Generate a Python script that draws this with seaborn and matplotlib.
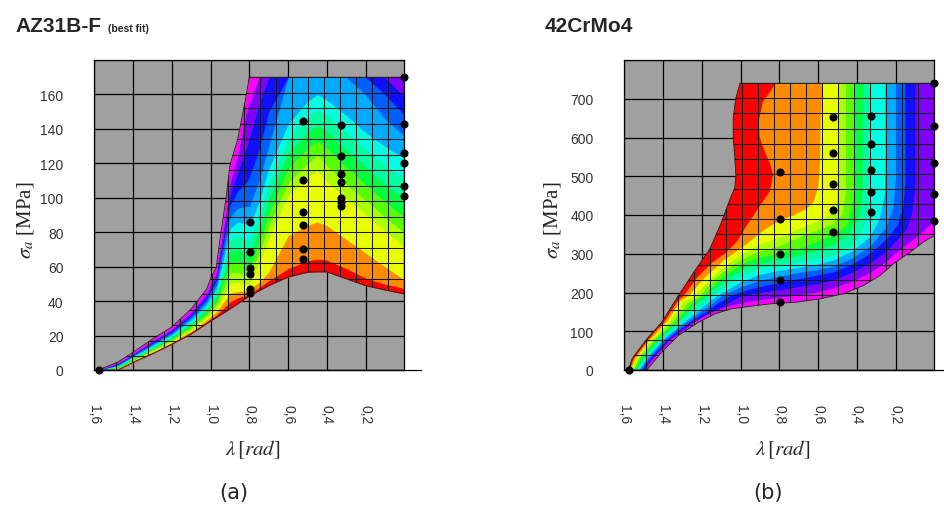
import numpy as np
import matplotlib
matplotlib.use("Agg")
import matplotlib.pyplot as plt
import seaborn as sns
import pandas as pd
from matplotlib.patches import Polygon

sns.set_style("white")
plt.rcParams['font.family'] = ['Liberation Sans', 'DejaVu Sans']
plt.rcParams['mathtext.fontset'] = 'stix'

# ---------------- colours (red -> magenta) ----------------
band_colors = ['#FF0000', '#FF8C00', '#E8FF00', '#AAFF00', '#55FF00', '#00FF40',
               '#00FFA0', '#00FFE0', '#00AAFF', '#0060FF', '#1010FF', '#8000FF', '#FF00FF']

# ---------------- ticks ----------------
x_ticks = [1.6, 1.4, 1.2, 1.0, 0.8, 0.6, 0.4, 0.2]
x_tick_labels = ['1,6', '1,4', '1,2', '1,0', '0,8', '0,6', '0,4', '0,2']
a_y_ticks = [0, 20, 40, 60, 80, 100, 120, 140, 160, 180]
a_y_labels = ['0', '20', '40', '60', '80', '100', '120', '140', '160', '']
b_y_ticks = [0, 100, 200, 300, 400, 500, 600, 700, 800]
b_y_labels = ['0', '100', '200', '300', '400', '500', '600', '700', '']

# ---------------- panel (a): AZ31B-F ----------------
a_lam = [1.58, 1.48, 1.40, 1.30, 1.20, 1.10, 1.02, 1.00, 0.97, 0.95, 0.92, 0.90,
         0.86, 0.82, 0.80, 0.75, 0.70, 0.60, 0.50, 0.45, 0.40, 0.30, 0.20, 0.10, 0.00]
a_lower = [0, 0, 4.5, 9.5, 15, 21, 27, 28.5, 30.5, 32, 34, 35.5,
           38.5, 41.5, 43, 46, 49, 54, 56.8, 57, 57, 53, 49, 46.5, 44.2]
a_upper = [0, 4.5, 10.3, 18, 25, 35.5, 47, 53, 60, 77, 100, 119,
           134, 157, 170, 170, 170, 170, 170, 170, 170, 170, 170, 170, 170]
# relative position of the 12 band borders across the narrow strip (first 12 columns)
a_strip_frac = [0.05, 0.11, 0.18, 0.25, 0.32, 0.40, 0.48, 0.56, 0.64, 0.72, 0.80, 0.88]
# band borders (sigma) in the main part, columns 0.86 ... 0.00
a_main_bounds = [
    [42, 43.5, 44.5, 48, 52, 59, 63.5, 64.5, 64, 59, 53.5, 50, 47.5],
    [45.5, 46, 47, 51, 57, 78, 84, 86, 84, 76, 68, 60, 52.5],
    [51, 50.5, 50.5, 63, 77, 102, 112, 116, 110, 100, 91, 81, 72],
    [57, 55.5, 55, 68, 84, 109, 120, 125, 119, 108, 99, 89, 80],
    [63, 61, 60, 74, 91, 117, 129, 133, 129, 118, 108, 98, 89],
    [70, 68, 67, 81, 99, 126, 138, 142, 139, 128, 118, 108, 100],
    [78, 76, 75, 89, 107, 134, 147, 151, 148, 138, 128, 119, 111],
    [86, 85, 84, 98, 117, 143, 156, 160, 157, 148, 138, 130, 123],
    [94, 95, 95, 110, 130, 172, 185, 188, 185, 175, 160, 146, 136],
    [104, 108, 112, 128, 150, 195, 205, 210, 205, 195, 177, 160, 148],
    [115, 128, 135, 155, 178, 220, 230, 235, 230, 218, 198, 178, 159],
    [125, 148, 155, 178, 200, 240, 250, 255, 250, 240, 222, 205, 190],
]
a_pt_lam = [1.575] + [0.796] * 6 + [0.521] * 6 + [0.327] * 7 + [0.0] * 6
a_pt_sig = [0, 85.7, 68.6, 59.4, 55.5, 47.3, 44.5,
            144.4, 110.1, 91.5, 84, 70.3, 64.5,
            142.5, 124.5, 114, 109, 100, 97.5, 95.2,
            170, 143, 126, 120, 107, 101]

# ---------------- panel (b): 42CrMo4 ----------------
b_domain_lam = [1.58, 1.484, 1.407, 1.321, 1.218, 1.132, 1.046, 0.925, 0.848, 0.71, 0.59,
                0.47, 0.366, 0.28, 0.211, 0.125, 0.057, 0.0, 0.0, 1.003, 1.025, 1.038,
                1.038, 1.03, 1.024, 1.03, 1.054, 1.10, 1.158, 1.235, 1.321, 1.407, 1.484, 1.559]
b_domain_sig = [0, 0, 46, 89, 123, 145, 158, 166, 170.7, 175, 183.6,
                196.5, 218, 244, 274, 304, 330, 347, 740, 740, 700, 650,
                600, 550, 500, 470, 442, 380, 313, 257, 192, 123, 80, 30]
b_strip_sig = [-20, 0, 30, 80, 125]
b_strip_left = [1.59, 1.58, 1.559, 1.484, 1.407]
b_strip_right = [1.49, 1.484, 1.435, 1.339, 1.21]
b_strip_frac = [0.08, 0.15, 0.23, 0.31, 0.38, 0.46, 0.54, 0.62, 0.69, 0.77, 0.85, 0.92]
b_bound_lam = [
    [1.32, 1.295, 1.22, 1.15, 1.08, 1.02, 0.97, 0.93, 0.89, 0.848, 0.831, 0.845, 0.875, 0.90, 0.905, 0.885, 0.85, 0.815, 0.80],
    [1.31, 1.27, 1.18, 1.08, 0.98, 0.88, 0.80, 0.72, 0.66, 0.62, 0.60, 0.59, 0.585, 0.575, 0.575],
    [1.29, 1.235, 1.14, 1.03, 0.92, 0.80, 0.70, 0.60, 0.53, 0.50, 0.495, 0.495],
    [1.27, 1.209, 1.12, 1.00, 0.90, 0.80, 0.70, 0.60, 0.52, 0.47, 0.455, 0.455],
    [1.25, 1.19, 1.10, 0.97, 0.85, 0.80, 0.70, 0.60, 0.52, 0.45, 0.42, 0.41, 0.41],
    [1.24, 1.175, 1.07, 0.95, 0.80, 0.70, 0.60, 0.52, 0.45, 0.39, 0.37, 0.365],
    [1.22, 1.15, 1.02, 0.90, 0.80, 0.70, 0.60, 0.52, 0.42, 0.36, 0.34, 0.335],
    [1.21, 1.16, 1.12, 1.00, 0.90, 0.80, 0.70, 0.60, 0.52, 0.42, 0.33, 0.28, 0.255, 0.25, 0.25],
    [1.20, 1.14, 1.097, 1.00, 0.90, 0.80, 0.70, 0.60, 0.52, 0.42, 0.33, 0.25, 0.21, 0.195, 0.195],
    [1.19, 1.12, 1.054, 0.95, 0.80, 0.70, 0.60, 0.52, 0.42, 0.33, 0.25, 0.19, 0.16, 0.15, 0.15],
    [1.17, 1.08, 0.994, 0.90, 0.80, 0.70, 0.60, 0.52, 0.42, 0.33, 0.25, 0.20, 0.14, 0.11, 0.095, 0.095],
    [1.15, 1.05, 0.95, 0.80, 0.70, 0.60, 0.52, 0.42, 0.33, 0.25, 0.20, 0.10, 0.0, -0.1, -0.1],
]
b_bound_sig = [
    [180, 190, 240, 275, 300, 330, 370, 400, 430, 460, 505, 530, 565, 600, 640, 690, 715, 740, 800],
    [178, 190, 240, 285, 320, 360, 385, 400, 415, 435, 470, 520, 650, 740, 800],
    [175, 190, 240, 285, 318, 340, 362, 382, 400, 430, 500, 800],
    [172, 190, 240, 282, 305, 318, 340, 360, 375, 400, 460, 800],
    [170, 190, 235, 278, 295, 300, 312, 330, 347, 372, 420, 480, 800],
    [165, 190, 235, 268, 285, 294, 308, 322, 345, 390, 450, 800],
    [160, 190, 235, 262, 270, 278, 287, 296, 322, 370, 440, 800],
    [155, 175, 190, 225, 245, 255, 263, 272, 282, 306, 343, 390, 450, 520, 800],
    [150, 172, 190, 212, 230, 240, 250, 258, 266, 288, 318, 365, 420, 500, 800],
    [145, 170, 190, 208, 225, 234, 244, 252, 272, 300, 335, 372, 420, 480, 800],
    [143, 165, 190, 198, 205, 213, 221, 230, 250, 274, 302, 328, 362, 410, 480, 800],
    [147, 165, 176, 186, 192, 200, 210, 228, 250, 276, 300, 338, 382, 395, 800],
]
b_pt_lam = [1.575] + [0.796] * 5 + [0.521] * 5 + [0.327] * 5 + [0.0] * 5
b_pt_sig = [0, 511, 390, 299, 231, 176, 653, 561, 481, 414, 356,
            656, 584, 516, 460, 409, 740, 629, 534, 453, 385]

GRAY = '#a0a0a0'


def style_axes(ax, ylim, yticks, ylabels):
    ax.set_facecolor(GRAY)
    ax.set_xlim(1.6, 0)
    ax.set_ylim(*ylim)
    ax.set_xticks(x_ticks)
    ax.set_xticklabels(x_tick_labels, rotation=-90, ha='center', va='top')
    ax.set_yticks(yticks)
    ax.set_yticklabels(ylabels)
    ax.grid(True, color='black', lw=0.9)
    ax.set_axisbelow(True)
    ax.tick_params(axis='y', length=12.2, width=0.9, color='black', direction='out',
                   labelsize=10, labelcolor='#333333', pad=10)
    ax.tick_params(axis='x', length=12.2, width=0.9, color='black', direction='out',
                   labelsize=10, labelcolor='#333333', pad=12)
    for s in ax.spines.values():
        s.set_color('black')
        s.set_linewidth(0.9)
    ax.axhline(0, xmin=0, xmax=1.055, color='black', lw=0.9, clip_on=False, zorder=2.5)
    ax.set_xlabel('')
    ax.set_ylabel('')


def fine_grid(ax, clip, lam_step, sig_top, sig_step):
    for i in range(0, 21):
        ln = ax.axvline(i * lam_step, color='#151515', lw=0.75, zorder=2)
        ln.set_clip_path(clip)
    s = sig_top
    while s >= 0:
        ln = ax.axhline(s, color='#151515', lw=0.75, zorder=2)
        ln.set_clip_path(clip)
        s -= sig_step


fig = plt.figure(figsize=(9.45, 5.06), dpi=100)
axA = fig.add_axes([94.3 / 945, 135 / 506, 310 / 945, 310 / 506])
axB = fig.add_axes([624.3 / 945, 135 / 506, 310 / 945, 310 / 506])

# ---------- panel (a) ----------
lam = np.array(a_lam)
lo = np.array(a_lower, float)
hi = np.array(a_upper, float)
ns = len(a_lam) - len(a_main_bounds[0])
edges = [lo]
for k in range(12):
    b = np.empty_like(lo)
    b[:ns] = lo[:ns] + a_strip_frac[k] * (hi[:ns] - lo[:ns])
    b[ns:] = a_main_bounds[k]
    edges.append(np.clip(b, lo, hi))
edges.append(hi)
for k in range(13):
    axA.fill_between(lam, edges[k], edges[k + 1], color=band_colors[k], lw=0.2, zorder=1)
domA = Polygon(np.c_[np.r_[lam, lam[::-1]], np.r_[lo, hi[::-1]]], closed=True,
               facecolor='none', edgecolor='#222222', lw=0.6, zorder=2.2)
axA.add_patch(domA)
fine_grid(axA, domA, 0.0826, 170, 9.0)
dfa = pd.DataFrame({'lam': a_pt_lam, 'sig': a_pt_sig})
sns.scatterplot(data=dfa, x='lam', y='sig', ax=axA, color='black', s=34, linewidth=0,
                zorder=4, clip_on=False, legend=False)
style_axes(axA, (0, 180), a_y_ticks, a_y_labels)

# ---------- panel (b) ----------
curves = [(np.array([1.75, 1.75]), np.array([-20, 800]))]
sl = np.array(b_strip_left)
sr = np.array(b_strip_right)
for k in range(12):
    xs = np.r_[sl - b_strip_frac[k] * (sl - sr), b_bound_lam[k]]
    ys = np.r_[b_strip_sig, b_bound_sig[k]]
    curves.append((xs, ys))
curves.append((np.array([1.45, -0.2, -0.2]), np.array([-20, -20, 800])))
domB = Polygon(np.c_[b_domain_lam, b_domain_sig], closed=True,
               facecolor='none', edgecolor='#222222', lw=0.6, zorder=2.2)
axB.add_patch(domB)
for k in range(13):
    xs = np.r_[curves[k][0], curves[k + 1][0][::-1]]
    ys = np.r_[curves[k][1], curves[k + 1][1][::-1]]
    p = axB.fill(xs, ys, color=band_colors[k], lw=0.2, zorder=1)[0]
    p.set_clip_path(domB)
fine_grid(axB, domB, 0.0826, 740, 39.0)
dfb = pd.DataFrame({'lam': b_pt_lam, 'sig': b_pt_sig})
sns.scatterplot(data=dfb, x='lam', y='sig', ax=axB, color='black', s=34, linewidth=0,
                zorder=4, clip_on=False, legend=False)
style_axes(axB, (0, 800), b_y_ticks, b_y_labels)

# ---------- texts ----------
fig.text(15 / 945, 1 - 32 / 506, 'AZ31B-F', fontsize=15, fontweight='bold', va='baseline', ha='left')
fig.text(108 / 945, 1 - 32 / 506, '(best fit)', fontsize=7.5, fontweight='bold', va='baseline', ha='left')
fig.text(545 / 945, 1 - 32 / 506, '42CrMo4', fontsize=15, fontweight='bold', va='baseline', ha='left')

for xc in (26, 553):
    fig.text(xc / 945, 1 - 220 / 506, r'$\sigma_a$ [MPa]', rotation=90, fontsize=15,
             family='Liberation Serif', ha='center', va='center')
for xc in (253, 783):
    fig.text(xc / 945, 1 - 450 / 506, r'$\lambda\,[rad]$', fontsize=15, ha='center', va='center')
fig.text(234 / 945, 1 - 493 / 506, '(a)', fontsize=15, family='DejaVu Sans', ha='center', va='center')
fig.text(768 / 945, 1 - 493 / 506, '(b)', fontsize=15, family='DejaVu Sans', ha='center', va='center')

fig.savefig('out.png', dpi=100)
